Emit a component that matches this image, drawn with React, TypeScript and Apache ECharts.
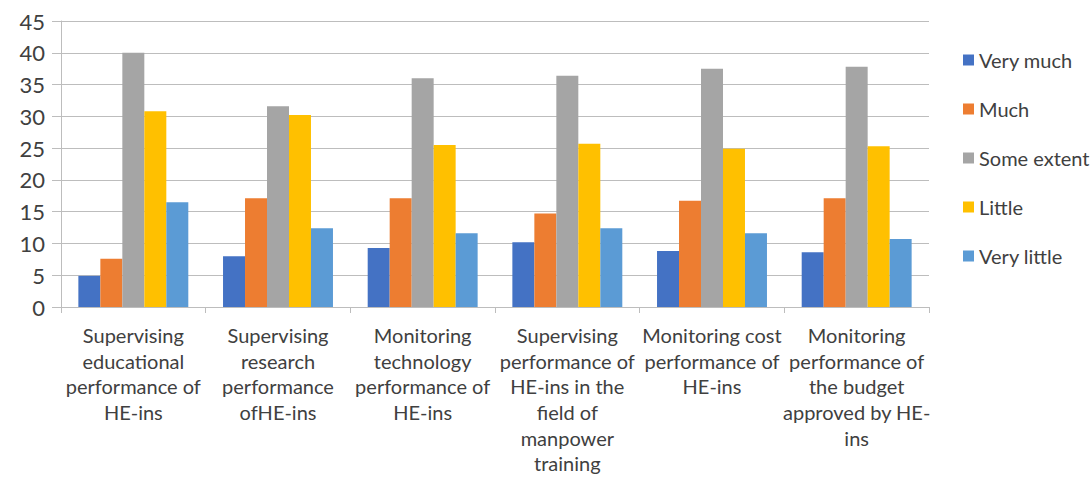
import React, { useEffect, useRef } from "react";
import * as echarts from "echarts";

const categories = [
  "Supervising\neducational\nperformance of\nHE-ins",
  "Supervising\nresearch\nperformance\nofHE-ins",
  "Monitoring\ntechnology\nperformance of\nHE-ins",
  "Supervising\nperformance of\nHE-ins in the\nfield of\nmanpower\ntraining",
  "Monitoring cost\nperformance of\nHE-ins",
  "Monitoring\nperformance of\nthe budget\napproved by HE-\nins",
];

const seriesNames = ["Very much", "Much", "Some extent", "Little", "Very little"];
const veryMuch = [4.9, 8.0, 9.3, 10.2, 8.8, 8.6];
const much = [7.6, 17.1, 17.1, 14.7, 16.7, 17.1];
const someExtent = [40.0, 31.6, 36.0, 36.4, 37.5, 37.8];
const little = [30.8, 30.2, 25.5, 25.7, 24.9, 25.3];
const veryLittle = [16.5, 12.4, 11.6, 12.4, 11.6, 10.7];
const colors = ["#4472C4", "#ED7D31", "#A5A5A5", "#FFC000", "#5B9BD5"];

const FONT = "Lato, 'Open Sans', sans-serif";
const TEXT = "#404040";
const GRID = "#BDBDBD";

export default function App() {
  const ref = useRef<HTMLDivElement>(null);
  useEffect(() => {
    if (!ref.current) return;
    const chart = echarts.init(ref.current, undefined, { renderer: "svg" });
    const data = [veryMuch, much, someExtent, little, veryLittle];
    chart.setOption({
      animation: false,
      color: colors,
      textStyle: { fontFamily: FONT, color: TEXT },
      grid: { left: 61, right: 163, top: 21, bottom: 170, containLabel: false },
      legend: {
        orient: "vertical",
        left: 958,
        top: 45,
        itemWidth: 11,
        itemHeight: 11,
        itemGap: 29,
        icon: "rect",
        textStyle: { fontFamily: FONT, fontSize: 20, color: TEXT, lineHeight: 20 },
        data: seriesNames,
      },
      xAxis: {
        type: "category",
        data: categories,
        axisLine: { show: true, lineStyle: { color: GRID, width: 1 } },
        axisTick: { show: true, length: 6, lineStyle: { color: GRID } },
        axisLabel: {
          interval: 0,
          fontFamily: FONT,
          fontSize: 20,
          color: TEXT,
          lineHeight: 25.7,
          margin: 15,
        },
      },
      yAxis: {
        type: "value",
        min: 0,
        max: 45,
        interval: 5,
        axisLine: { show: true, lineStyle: { color: GRID, width: 1 } },
        axisTick: { show: true, length: 9, lineStyle: { color: GRID } },
        splitLine: { show: true, lineStyle: { color: GRID, width: 1 } },
        axisLabel: { fontFamily: FONT, fontSize: 22, color: TEXT, margin: 16 },
      },
      series: seriesNames.map((name, i) => ({
        name,
        type: "bar",
        data: data[i],
        barGap: "0%",
        barCategoryGap: "24%",
        itemStyle: { color: colors[i] },
      })),
    });
    return () => chart.dispose();
  }, []);
  return (
    <div
      ref={ref}
      style={{ position: "absolute", left: 0, top: 0, width: 1092, height: 477, background: "#fff" }}
    />
  );
}
